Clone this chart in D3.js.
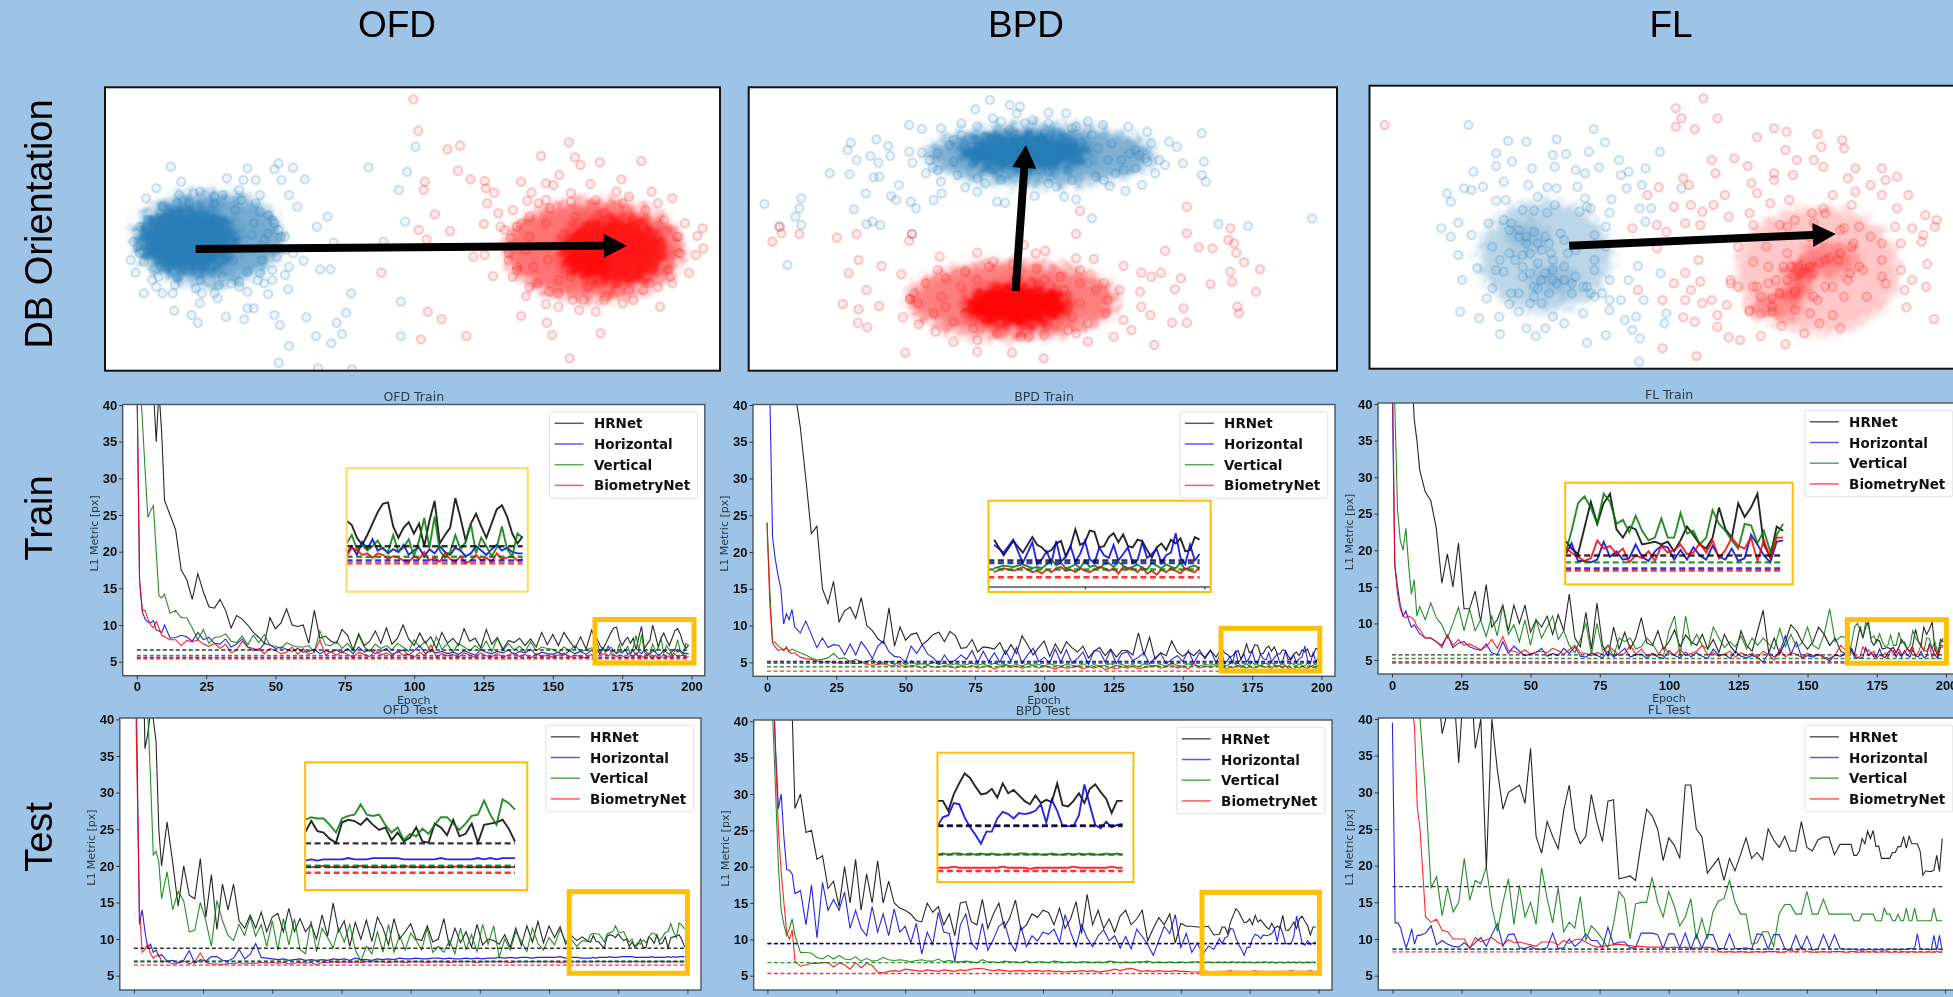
<!DOCTYPE html>
<html>
<head>
<meta charset="utf-8">
<script src="https://cdn.jsdelivr.net/npm/d3@7/dist/d3.min.js"></script>
<style>
html,body{margin:0;padding:0;background:#9DC3E6;overflow:hidden}
svg{display:block}
</style>
</head>
<body>
<div id="d3data"></div>
<script>
// epochs the curves were read at: every epoch at the start and inside the zoomed window
var epochs = d3.range(0, 10).concat(d3.range(10, 165, 2), d3.range(165, 200));
var seriesNames = ["HRNet", "Horizontal", "Vertical", "BiometryNet"];
var seriesColors = ["#000000", "#0000e0", "#007a00", "#ff0000"];
var xTicks = [0, 25, 50, 75, 100, 125, 150, 175, 200];
var yTicks = [5, 10, 15, 20, 25, 30, 35, 40];
var columnLabels = ["OFD", "BPD", "FL"];
var rowLabels = ["DB Orientation", "Train", "Test"];

// OFD train
var ofdTrainHr = [90,80,70,60,52,46,42,35,42,36,
27,25,23,17.5,16.2,13.5,17,14.5,12.5,12.3,
13.5,12,9.6,11.3,10.8,10,9,8.3,7.5,11,
9.5,10.3,12.2,10,9.8,10,7.5,12,8.2,8.5,
7.8,7.5,9.4,8.6,6.6,8.8,7.2,7.8,9.2,7.5,
9.6,7.4,8.2,10,8.1,7.2,8.9,7.5,8.4,6.8,
9,7.5,8.2,7.2,9.5,7.8,8.2,6.9,9.4,7.4,
8.3,6.7,7.9,7.6,8.2,7.2,8.1,7,9,7.3,
8.7,7.2,9,7.8,6.8,8.4,6.7,9.3,
8.4,8.1,7.2,6.7,7.4,8.2,9,9.6,9.7,8,
7.2,7.9,8.3,7.5,8.2,6.6,8.4,9.8,6.8,7.4,
7.9,10,8.6,7,8.2,8.9,8,7.2,8.2,9.2,
9.5,8.7,7.5,6.8,7.3];
var ofdTrainHz = [45,16,11.8,10.8,10.4,10.3,10.6,9.3,9.2,9,
10,8.2,8.3,8.6,8.4,7.8,9,8,8.3,7.5,
7.4,8.1,7,7.4,8.1,7,6.8,6.5,7.5,7.3,
6.8,7,6.7,6.4,6.8,6.3,6.4,6.7,6.1,6.5,
6.3,6.6,6.2,6.8,6.1,7,6.3,6.6,6.1,6.4,
6.8,6,6.3,6.6,5.9,6.5,7.2,6.1,6.5,6.2,
6.4,6.1,6.3,6,6.5,6.2,5.9,6.6,6.3,6.1,
6.4,6.2,6.6,6,6.4,6.2,6.7,5.9,6.3,6.1,
6,6.3,5.9,6.5,6.1,6.4,6,6.6,
6.1,6.6,6,6.9,6.4,7.1,6.3,6.5,6.1,6.4,
6.2,6.7,6,6.3,6.5,5.9,6.4,6.1,6.6,6.2,
6,6.5,6.3,5.9,6.1,6.6,6.3,6,6.4,6.7,
6.3,6.5,6.2,6.1,6.1];
var ofdTrainVt = [60,44,38,31,24.7,25.6,26.3,20,14,13.7,
14.2,11.6,12,11,11,9.6,8,9.4,7.5,8.3,
8.4,8.8,7.8,7.6,8.5,7.3,8.6,7.6,8.7,7.2,
7.1,6.8,7.6,7.2,7,7,7.2,6.3,9.2,7.3,
7.2,7.8,6.8,7.5,6.5,8.6,7,6.4,7.4,6.8,
7.2,6.6,7.5,7,6.4,8,7,7.8,6.3,8.4,
6.7,7.4,6.3,7.5,7,6.5,7.2,6.6,7.8,6.4,
8.2,6.5,7.5,6.6,7.1,6.4,7.7,6.5,7,6.8,
6.7,6.2,7,6.5,7.2,6.4,6.6,6.9,
6.8,7.4,6.4,6.7,6.3,6.6,7,6.4,6.2,7.4,
6.2,6.5,7.1,5.9,7,8.6,6.5,8.7,6.3,5.8,
6.2,7.4,6.4,6.9,8.2,6.1,7.2,6.6,5.9,6.5,
8,6.4,5.9,7.5,7.2];
var ofdTrainBio = [45,16,12,12,10.8,10,9.6,10.5,9.6,8.6,
8.4,8,8,7.2,7.9,7.7,8,7.4,7.1,7.5,
6.8,7.4,6.2,6.6,7.8,7,6.5,6.8,6.1,6.8,
6.5,6.1,6.3,7,6,6.8,6,6.3,8,5.9,
6.4,5.9,6.4,6,5.6,6.3,6,5.7,6.6,5.9,
6.2,5.7,6.5,5.9,6,5.6,6.3,5.8,7.3,5.6,
6.1,5.8,6,5.6,6.2,5.9,5.6,6.2,5.8,5.7,
6.1,5.6,5.9,6.2,5.7,6,5.5,6.1,5.7,5.9,
5.6,5.9,6.2,5.6,5.9,5.7,5.5,6,
5.9,6.5,6.3,6,6.1,5.8,6.1,6,5.7,5.9,
5.8,5.6,5.5,5.9,5.7,6.2,5.6,5.8,5.5,6.1,
5.7,5.5,5.9,5.4,5.6,6,5.6,5.8,5.5,6.1,
5.7,5.8,5.9,5.6,5.7];
var ofdTrainMeans = [6.6, 5.6, 5.86, 5.4];

// BPD train
var bpdTrainHr = [90,85,80,75,70,65,60,55,50,45,
42,37,30,22.5,23.5,15,13,16,10.5,12,
12.5,11,13.8,10,9.3,8.2,7.6,12.4,7.2,9.8,
8,8.8,9,7.4,8,8.8,9.1,7.8,9.2,8.6,
6.9,7,8.1,6.4,7.1,7,6.8,7.7,6.1,7.4,
6.2,8.6,7.4,6,7,7.9,5.8,7.5,6.2,7.8,
7,6.4,7.2,5.6,6.5,7,5.9,6.8,5.7,6.6,
6.6,6,9,6,8.4,5.4,6.3,5.9,7.9,6.4,
5.8,6.4,5.9,6.7,5.5,6.6,5.7,6.9,
6.3,6.1,5.7,5.9,6.4,6.6,5.4,6.2,7.5,6.3,
6.5,7.4,7.3,6.1,6.2,6.9,7.2,6.5,7.1,6.2,
6.1,6.7,6.6,5.9,5.3,6.1,6.4,5.9,6.7,6.4,
6.8,5.8,5.9,6.9,6.7];
var bpdTrainHz = [60,42,22,19,16.8,15,10.2,11.6,10.8,12.2,
9.8,9,10.6,8.8,7,8.3,7,7.4,7.3,6,
7.5,6,7.8,6.8,5.5,7.2,7.9,6.4,5.8,5.7,
5,7.2,6.2,7.4,6.1,5.6,4.7,6,4.9,5.3,
6,5.4,6.6,4.9,6.5,5.1,6.3,5,6.6,5.2,
7,4.9,6,6.9,5.1,5.7,4.9,6.8,5,6.7,
4.9,5.5,6.4,4.7,6.6,6.5,5,6.7,4.8,6.2,
6.4,5.2,5.7,6.3,4.8,5.6,6.2,4.8,5.4,5.9,
5.1,6.6,4.9,6.3,5.7,6.7,4.9,6.5,
4.8,5.2,5.8,4.9,6.6,5,5.4,6.2,5,5.6,
6.6,5.2,4.9,6.1,5.5,5.3,6.3,5.1,5.6,6.1,
4.9,5.1,6.5,5.3,5.6,6,4.9,5.5,5.7,7.2,
5.3,4.8,6.3,5.1,5.6];
var bpdTrainVt = [24,15,7.8,7.7,7.2,7,6.7,6.9,6.5,6.8,
6.6,6.3,6,5.6,5.3,5.4,5.6,6.2,5.5,5.6,
5.1,5.4,5,5.1,5.4,4.8,5,5.1,4.7,5.2,
4.6,5.2,4.7,4.8,4.7,5,4.7,4.9,4.6,4.8,
4.6,4.7,4.9,4.6,4.8,4.5,4.9,4.6,4.7,4.5,
4.7,4.5,4.8,4.6,4.7,4.5,4.8,4.6,4.5,4.7,
4.6,4.5,4.8,4.4,4.7,4.5,4.6,4.8,4.5,4.7,
4.5,4.7,4.4,4.8,4.6,4.5,4.7,4.5,4.9,4.6,
4.5,4.8,4.6,4.5,4.7,4.6,4.8,4.5,
4.6,4.5,4.8,5.2,4.7,4.9,4.5,4.6,4.8,4.5,
5.1,4.6,4.7,4.5,4.8,4.9,4.6,5,4.7,4.5,
4.6,4.8,4.5,4.4,4.9,4.7,4.5,4.8,4.6,4.5,
4.9,4.4,4.6,4.7,4.5];
var bpdTrainBio = [24,13,7.6,7.1,6.6,6.8,6.6,7.1,6.4,6.2,
6.3,5.7,5.5,5.4,5.1,5,5.1,5,4.9,4.9,
4.9,4.8,5,4.7,4.6,4.7,4.8,4.6,4.5,4.7,
4.3,4.6,4.5,4.2,4.6,4.4,4.3,4.6,4.4,4.2,
4.5,4.3,4.6,4.2,4.4,4.5,4.1,4.4,4.6,4.3,
4.5,4.2,4.4,4.6,4.2,4.5,4.3,4.1,4.4,4.2,
4.3,4.5,4.1,4.4,4.2,4.5,4,4.3,4.1,4.4,
4.2,4.5,4.1,4.3,4.4,4.6,4.2,4.4,4.7,4.2,
4.4,4.1,4.9,4.2,4.5,4.3,4.6,4.2,
4.3,4.1,4.4,4.2,4.5,4.6,4.3,4.4,4.2,4.5,
4.3,4.2,4.4,4.6,4.5,4.3,4.5,4.1,4.6,4.4,
4.5,4.2,4.6,4.1,4.3,4,4.4,4.2,4.5,4.3,
4.1,4.5,4.3,4.2,4.6];
var bpdTrainMeans = [5.1, 4.9, 4.4, 3.8];

// FL train
var flTrainHr = [90,85,80,75,65,58,52,46,38,35,
31,28,26.8,23,15.5,19.5,15,21,12,12,
14.4,10.3,15.3,9.5,10.5,12.5,9,12.5,10,12.5,
8.8,10.5,9.5,11,8.5,11.2,9,14,8,6.8,
11.5,6.5,12.8,7,5.5,9.5,6.5,8.8,6.5,8,
10.8,7.3,7,9,6.5,7.5,9.1,6.8,8.4,7.5,
7,8.5,6.5,7.8,6,8.5,7,6,9,7,
6.2,9,11.8,6,8,5.8,7.5,9.8,9,7.5,
6.5,7.5,9.5,8.5,7,8,6.2,5.8,
6.8,6.2,5.8,7.7,9.6,8,9.5,10.2,7.6,7,
7.8,7.6,6.5,6.6,6.7,6.5,6.7,6,6.8,7.8,
7.2,6.5,6.2,7,9.2,7.6,7,9.5,8.5,9.2,
10.2,6.5,5.6,7.8,7.5];
var flTrainHz = [45,18,15,12.5,11,11.7,10.5,9.5,9.8,9.2,
8.6,8,8,7.5,7,8.4,6.7,7.3,7.5,6.8,
6.5,6.3,7.2,6,5.7,7.5,5.9,6.9,6.2,5.6,
5.8,6,6.6,5.5,5.9,5.6,6.6,5.9,6.8,5.5,
5.4,6,5.6,5.3,6.2,5.4,5.9,6.6,5.4,5.7,
5.8,5.2,5.9,5.4,5.2,6.3,5.6,5.3,6.1,5.4,
6,5.5,5.2,6.5,5.6,5.8,5.2,6.2,5.5,5.3,
5.6,5.3,4.7,6,5.4,6.1,8.3,5.8,7.5,5.2,
5.6,5.4,5.8,5.3,4.9,5.7,5.5,5.9,
5.7,6.6,5.3,5.3,5.2,5.4,6.7,5.6,6,5.4,
5.5,6.5,5.6,5.3,6,6.4,6.3,5.4,6.1,5.4,
6.3,5.7,5.4,6.4,5.6,5.4,6.2,5.3,5.5,7.2,
6.5,5.7,5.2,6.7,6.8];
var flTrainVt = [70,40,25.5,21.3,20,23,18,14,16,11,
12.3,10.5,12.8,10.8,9.8,8,10,12.2,9,12,
9,10.5,8.2,11,8.3,12.5,8.5,9.8,7.5,10.5,
7,10.5,8,9.5,11,7.8,9,7,6,7.8,
10,5.8,10,6.3,7,5.5,8,7.5,8,6.5,
6.8,8,7.2,6,5.5,9,11,5.5,11,7,
8.5,7,6.5,9.5,8,6.7,7.5,6.8,8.3,6.5,
8,7,8,7.2,6.5,9.3,6.8,8.5,6.8,7.3,
9.5,7,6.5,8.5,12,7.5,8.2,8.1,
5.8,7.5,9.5,10,9.2,8,10.2,9.6,8,8.3,
7.4,8.6,7.5,6.8,7,8.4,7,7,8.8,7.3,
7.5,6.5,7,9,8,7.5,6.8,6.2,8,7.9,
6.6,7.5,6,7.2,8];
var flTrainBio = [50,18,14,12,11,10.8,11,10.8,10.5,9.6,
9.2,8,8,7.5,6.7,8.4,7,7.8,7,7.2,
6.8,6.4,6.8,7.8,6.6,8.2,6.3,6.2,5.9,6.4,
5.8,6.1,6.2,6,6.6,6.3,5.8,6.4,7,6,
5.9,5.6,6,5.8,7,6.3,5.6,5.9,7,5.8,
6.5,5.5,5.9,5.6,6.8,5.9,5.7,6.5,5.6,5.9,
6.2,7,5.7,6,5.5,5.8,6.2,5.4,6,5.6,
5.9,5.4,6.2,5.7,5,6.5,5.4,6,5.8,5.3,
5.9,5.6,5.7,5.4,5.2,5.7,7,6.2,
6.3,5.9,5.6,5.3,5.5,6.8,6.2,6.4,5.8,6.2,
5.2,5.7,5.5,6,5.3,6.4,5.9,6.1,6.5,5.8,
5.9,6.6,5.9,6.8,5.5,6.1,7,6.4,6.2,7,
5.3,6.8,5.5,7,7];
var flTrainMeans = [5.7, 4.75, 5.2, 4.6];

// OFD test
var ofdTestHr = [90,85,70,55,36,38,41,40,37,25,
20,26,20.5,14.5,20,16,15.5,21,13,18.8,
11.3,17.5,14,17.5,12.5,11.5,13.3,11.5,13.7,11,
13,13.5,11,14.2,11,12.8,11,12,10,13.3,
10.4,14.9,11,12.5,9,12.3,10,12.6,9.7,13,
11.5,9.2,12.8,10,11,12.1,10,9.8,11.8,9.6,
10,12.8,9,11.5,9.5,11,8.9,12,9.2,10,
9.8,9.3,10.6,8.9,11.5,9.1,11.8,9.6,12.4,9.5,
11.8,10.2,11.7,9.3,10.5,9.8,10.3,9.7,
9.6,10.5,9.7,9.6,9.1,8.8,10.4,10.6,10.5,10.2,
10.7,10.2,9.8,10,9,9.6,8.9,9.2,10,8.9,
8.8,10.3,10,9.4,10.6,9.3,9.5,10.3,8.8,10.2,
10.3,10.4,10.6,9.9,8.9];
var ofdTestHz = [70,40,12,14,11,8.8,9.3,8.2,8.5,7.6,
7.9,7,7.1,6.8,7.1,8.4,6.7,7.2,7,7.6,
7.6,7.1,7,7.4,8.6,7.3,7.9,9.4,7.5,7.4,
7.3,7.2,7.3,7.1,7.2,7.3,7.1,7.2,7.1,7.2,
7.1,7.3,7.2,7.3,7.1,7.4,7.2,7.2,7.1,7.3,
7.2,7.3,7.2,7.4,7.3,7.3,7.4,7.3,7.3,7.4,
7.4,7.3,7.4,7.3,7.3,7.4,7.3,7.4,7.3,7.4,
7.4,7.5,7.4,7.5,7.4,7.5,7.5,7.4,7.5,7.5,
7.5,7.5,7.6,7.4,7.5,7.5,7.4,7.4,
7.4,7.5,7.4,7.5,7.5,7.5,7.5,7.6,7.5,7.5,
7.5,7.6,7.6,7.6,7.6,7.6,7.5,7.5,7.5,7.5,
7.5,7.5,7.6,7.5,7.5,7.5,7.5,7.5,7.6,7.5,
7.6,7.5,7.6,7.6,7.6];
var ofdTestVt = [70,60,52,45,42,41,32,21.5,22,20.5,
15.5,19.2,14,16.5,15.2,11,11.2,15,12.5,9,
15.3,12.5,10.5,9.8,12,10.5,13,10.4,12,9,
12.5,8.5,12.8,9.2,12.8,8.6,8,12.5,8.3,11.5,
10.2,8.8,11.5,9.6,12,8.5,7,9,8,11,
8.2,12,8.2,10.5,8.5,10.8,9.8,8.5,11.5,8.2,
9,8.2,9.8,8,11.5,8.6,10.6,8.3,12,9.3,
11.8,7.5,10,8.5,11,9.7,8.3,11.5,9.4,8.5,
10.2,9.2,11.3,9.7,10,9,9.8,9.7,
10.6,10.8,10.7,10.7,10.2,9.6,10.7,10.9,11,11.8,
11,10.9,11,10.2,9.6,10,9,9.5,9.3,9.9,
9.5,10.2,10.8,10.8,10.3,9.8,10.3,10.9,11,12.1,
11,10.2,12.2,11.9,11.4];
var ofdTestBio = [60,35,14,8.2,8.6,9.3,8,7.4,7.7,7.9,
6.9,7,6.6,6.7,7,6.6,6.9,8.1,6.8,6.6,
6.6,6.5,6.7,6.6,6.8,6.6,6.7,6.7,6.8,6.7,
6.8,6.7,6.8,6.6,6.7,6.8,6.7,6.8,6.5,6.8,
6.8,6.9,6.8,6.9,6.8,6.9,6.8,6.9,6.9,6.9,
6.9,6.8,6.9,6.9,6.8,6.9,6.9,6.9,6.8,6.9,
6.9,6.9,6.8,6.9,6.9,6.9,6.9,6.8,6.9,6.9,
6.9,6.9,6.9,6.8,6.9,6.9,6.9,6.9,6.9,6.9,
6.9,6.9,6.8,6.9,6.9,6.9,6.9,6.9,
6.9,6.9,6.9,7,6.9,6.9,6.9,6.9,6.9,7,
6.9,6.9,6.9,6.9,6.9,6.9,7,6.9,6.9,6.9,
6.9,6.9,6.9,6.9,6.9,7,6.9,6.9,6.9,6.9,
6.9,6.9,6.9,6.9,6.9];
var ofdTestMeans = [8.75, 6.9, 7, 6.45];

// BPD test
var bpdTestHr = [90,85,80,75,70,65,60,55,50,41,
28,30,24.7,25,21,21.5,17,18,14.5,20,
15,21,14,19,15,20.8,15,18,15,14.3,
14,13.5,12.6,12.4,15,13.7,14.5,12,13.5,10.5,
15,15.2,12.4,12,15.5,11.5,13.5,15,11.6,13,
15.4,11.3,12,13.5,13,14,13.7,12,14.3,11.5,
12.8,15.2,10.8,16.2,12,14,11.5,12.8,11,13.2,
14,12,12.8,14,9.8,11.5,13,12,13.5,9.5,
12.2,11.8,11.8,11.7,11.7,11.8,10.6,10.7,
11.7,11.7,10.8,12.3,13.3,14.2,13.8,13,12.3,12.4,
12.8,12,13.3,12.4,12.7,12.2,11.7,11.4,12.2,11.5,
11.8,11.6,13.3,11.3,11.2,11.7,12.4,11.5,12.8,13.2,
12.5,11.9,10.6,11.7,11.7];
var bpdTestHz = [80,60,45,36,28,30,24,19.6,19.5,19,
16.3,16.7,12,17.5,10.2,17.8,14,15.5,14,16.5,
11.5,14,11.5,10.5,14.5,11,13.5,10.5,14.2,11,
11.8,9.5,12.2,8,11,9.3,13.7,11,10.8,7,
12,13.5,9.5,8.6,12.2,8.5,10,11.8,12.4,9.6,
8.4,11.8,9,10.5,9.8,11,10.7,11.4,9.6,13.4,
11,9,12,10.2,9,10.5,11.3,9.8,10.5,8.8,
10.4,8.7,11.4,10.4,9.3,7.8,9.8,11.8,10.8,13.4,
8.9,10.8,8.2,9.5,7.9,9.1,8.6,10.1,
9.4,10.2,10.4,11.5,11.4,10.2,9.3,8.6,7.8,8.9,
8.9,10.1,10.7,10.5,10.1,10.6,10.5,10.6,10.8,11.4,
9.7,11.8,10.8,9.4,9.4,9.4,10.4,13.2,11.3,9.5,
9.2,9.8,9.3,9.5,9.6];
var bpdTestVt = [70,55,40,30,20,14,12,10.5,11.5,12.8,
10.5,8.2,8.2,8.1,7.5,7.3,7.8,7.3,7.8,7.3,
7.2,7.6,7,7.4,7,7.1,7.5,7.2,7.1,7.2,
7.1,6.9,7.1,7.2,7,7,7.3,6.9,7.1,6.9,
6.9,7,6.9,6.8,7.2,6.9,6.9,6.8,7,6.9,
6.9,6.8,7,6.8,6.9,6.9,6.8,7,6.9,6.8,
6.9,6.8,6.9,6.9,6.8,6.9,6.8,7,6.9,6.8,
6.9,6.8,6.9,6.9,7,6.8,6.9,6.8,6.9,6.8,
6.9,6.8,6.9,6.9,6.8,6.9,6.8,6.9,
6.8,6.9,6.8,6.9,6.9,6.8,6.9,6.8,6.9,6.8,
6.9,6.8,6.8,6.9,6.8,6.9,6.9,6.8,6.9,6.8,
6.8,6.9,6.8,6.8,6.9,6.8,6.9,6.8,6.9,6.8,
6.8,6.9,6.8,6.9,6.8];
var bpdTestBio = [70,60,48,35,25,19.3,15,11,10,11.3,
7,6.3,6.5,6.7,6.7,6.8,6.8,6.2,6.8,6.5,
5.9,6.8,6.1,6.7,6.4,5.5,5.4,5.6,5.7,5.6,
5.9,5.8,5.7,5.6,5.8,5.7,5.6,5.8,5.7,5.6,
5.8,5.7,5.9,6,6,5.8,5.7,5.8,5.7,5.6,
5.7,5.7,5.6,5.7,5.7,5.6,5.7,5.6,5.6,5.5,
5.6,5.6,5.7,5.6,5.7,5.5,5.6,5.7,5.9,5.7,
5.9,6,5.8,5.6,5.7,5.6,5.7,5.6,5.6,5.7,
5.6,5.6,5.5,5.5,5.6,5.6,5.5,5.6,
5.6,5.6,5.6,5.7,5.6,5.6,5.6,5.6,5.6,5.6,
5.6,5.6,5.7,5.6,5.6,5.6,5.6,5.5,5.6,5.6,
5.6,5.6,5.6,5.6,5.6,5.7,5.6,5.6,5.6,5.6,
5.6,5.6,5.7,5.6,5.6];
var bpdTestMeans = [9.45, 9.4, 6.8, 5.3];

// FL test
var flTestHr = [95,95,90,85,80,75,70,65,60,55,
52,50,48,46,38,41,45,34,46,48,
36,40,19.5,40,33,27.7,30,30.5,31,28.5,
36,24,21.7,26,24,22.3,27.5,31,25,23,
24,29.7,26,23.3,28.8,29,18.2,18.4,18.6,18,
23,27.7,26.8,25,20.7,23.8,22.8,21,31,31,
25,24,19,20,21,18,21,19.3,21.5,23.8,
21,21.8,20.8,25,23.5,22.5,24,22,22,26,
22.5,22,23.5,23.9,23.9,21.5,22.9,22.9,
22.9,22.9,21.4,21.4,22,23.7,23,24.7,23.7,24.8,
22.6,22.7,21,21,21,21,21.8,21.8,22.6,22.6,
24,22.4,24,23,23,23,22,18.7,19.3,19.2,
19.2,19.4,21.4,19.2,23.7];
var flTestHz = [39.5,12.2,12.2,11.5,10,8.8,10,11.4,9.3,10.5,
10.5,10.8,11.8,9.2,9.8,9.3,9,8.9,9.5,8.8,
9.5,10.2,9,10.6,12.1,9,10.6,10.7,8.8,8.7,
9,8.6,8.6,8.8,10.8,8.7,8.8,10,9,9.6,
10.7,9.8,9.8,8.8,11.6,9.3,9.6,9.6,8.8,8.8,
10.8,10.8,10.8,10.6,8.7,10.7,10.7,8.8,10.8,8.6,
10.6,8.7,10.6,10.6,8.7,8.7,10.7,8.7,8.7,8.8,
8.6,10.7,10.6,8.6,10.6,10.6,8.7,8.5,10.5,8.6,
10.4,8.5,8.6,10.6,8.7,10.6,8.7,8.6,
8.6,8.6,8.6,8.5,8.5,8.5,8.5,8.6,8.6,8.5,
8.5,8.6,8.5,8.5,8.5,8.6,8.6,8.5,8.6,8.5,
8.6,8.6,8.7,8.7,8.7,10.7,8.7,8.6,8.6,8.6,
8.5,10.5,8.5,10.5,8.4];
var flTestVt = [90,85,80,75,70,65,60,55,50,45,
40,30,17,18.5,13.2,17,13.7,15,21,15.3,
18,17.5,19.8,14.4,11,15,18.2,12,17.3,13,
15,12,19.7,15.5,12.2,17,11,12.3,11.5,15.8,
9.8,11.8,11,10,8.8,12,16.5,15.5,10,14.8,
15,15,18.4,15,13,16.5,14.5,11.8,13,15.5,
10,12.8,10,13.7,15.2,15.5,18,15,13.4,13.4,
9.3,9.5,11,11,9,13.5,14.7,14.7,13.4,13.4,
16.5,13.4,13.4,15.4,13.4,13.4,13.4,13.4,
13.4,13.4,12.5,12.5,12.5,13.4,13.4,13.4,13.4,13.4,
12.5,12.5,12.5,14.2,13.4,13.4,12.5,12.5,13.4,12.5,
12.5,14.2,12.5,12.5,14.2,12.5,12.5,12.5,12.5,12.5,
12.5,14.2,12.5,12.5,12.5];
var flTestBio = [90,80,70,60,55,50,45,42,39,28,
25,13,12.3,12.7,11.2,11,10,10,10,8.7,
10.2,9.6,9.9,10.2,9.6,9.2,9.9,9.5,9.6,9.4,
9.2,9,9.6,9.6,9.6,9.2,9.8,9.4,9.9,10,
9.6,9.2,8.9,9,9.1,9.2,9.3,9.2,9.1,9,
9,8.9,8.9,8.9,8.9,8.8,8.9,8.8,8.9,8.8,
8.8,8.8,8.9,8.8,8.3,8.2,8.3,8.2,8.3,8.2,
8.2,8.3,8.2,8.3,8.3,8.2,8.2,8.6,8.2,8.9,
8.3,8.2,8.2,8.3,8.2,8.3,8.3,8.2,
8.2,8.3,8.3,8.2,8.2,8.3,8.2,8.3,8.2,8.3,
8.2,8.2,8.3,8.2,8.3,8.2,8.2,8.3,8.2,8.2,
8.3,8.2,8.2,8.3,8.2,8.2,8.3,8.2,8.2,8.3,
8.2,8.2,8.3,8.2,8.2];
var flTestMeans = [17.15, 8.6, 8.6, 8.25];

// scatter points (units of each crop, 0-1568 by 0-900)
var ofdBlue = [[195,260],[380,265],[445,268],[455,250],[490,263],[220,305],[330,295],[370,300],[400,300],[462,300],[518,298],[160,325],[360,330],[410,345],[135,355],[480,345],[500,380],[430,405],[573,410],[547,440],[120,440],[105,485],[455,450],[490,520],[588,488],[708,485],[98,540],[110,578],[515,542],[555,568],[580,568],[470,585],[175,640],[130,640],[380,635],[430,642],[478,628],[630,640],[203,692],[265,670],[308,655],[395,685],[380,685],[245,705],[328,710],[372,718],[260,728],[445,705],[522,712],[618,698],[595,728],[458,735],[608,762],[545,768],[582,790],[480,798],[455,848],[550,865],[632,868],[750,665],[750,768],[672,262],[765,275],[745,330],[760,425],[785,200],[155,505],[440,600],[410,580],[300,640],[340,610],[150,600],[120,520],[440,420],[400,370],[300,350],[250,340],[210,370],[170,400],[470,470],[480,560],[200,640],[270,640],[360,620],[420,610],[160,620],[130,470],[470,510],
[150,440],[175,380],[215,345],[265,335],[320,345],[365,360],[410,395],[445,430],[460,470],[450,530],[440,570],[405,600],[360,605],[310,615],[255,625],[205,615],[165,590],[130,545],[115,500],[140,420],[190,400],[240,370],[300,370],[350,390],[395,430],[420,480],[415,540],[380,575],[320,590],[265,600],[210,590],[170,560],[140,510],[160,470],[430,460],[390,465],[345,540],[205,540],[300,420],[350,470]];
var ofdRed = [[780,58],[792,152],[862,208],[893,197],[1155,187],[1088,228],[1170,232],[1183,255],[1230,247],[1330,243],[888,272],[918,298],[952,303],[808,305],[805,330],[955,325],[975,338],[1040,305],[1132,285],[1282,298],[1100,310],[1118,315],[1065,338],[1082,370],[1055,362],[1207,312],[1270,335],[1355,335],[958,370],[832,403],[985,400],[1020,390],[1405,355],[950,432],[990,440],[793,450],[868,453],[812,478],[1435,430],[1478,445],[1465,468],[1480,505],[925,530],[952,525],[1462,525],[703,578],[972,588],[1445,578],[1405,610],[1052,648],[1108,635],[1165,660],[1335,630],[1375,680],[1100,672],[1130,680],[1040,708],[815,695],[848,718],[798,778],[908,768],[1102,728],[1115,765],[1232,760],[1157,835],[1220,695],[1285,670],[1310,660],[1000,450],[1010,540],[1020,590],[1420,520],[1400,590],[1370,620],[1240,660],[1060,620],[1420,470],[1040,430],[1100,360],[1160,340],[1300,350],[1370,370],[1030,560],[1180,690],
[1030,440],[1060,410],[1110,385],[1160,365],[1220,360],[1285,370],[1340,390],[1385,420],[1415,470],[1425,520],[1395,570],[1350,610],[1300,630],[1245,650],[1190,660],[1130,640],[1080,610],[1030,570],[1010,520],[1015,475],[1060,470],[1100,430],[1170,410],[1240,400],[1310,420],[1370,470],[1380,530],[1330,580],[1270,610],[1200,620],[1130,600],[1070,560],[1050,510],[1105,540],[1340,510],[1160,590]];
var bpdBlue = [[632,60],[682,75],[708,80],[595,88],[780,98],[825,100],[428,135],[460,147],[508,145],[640,115],[880,125],[918,135],[982,140],[1030,155],[1168,160],[1085,185],[1105,200],[1040,190],[280,188],[345,178],[375,198],[272,210],[330,228],[295,240],[380,228],[428,215],[460,218],[436,248],[350,248],[227,280],[277,283],[352,290],[338,292],[402,315],[508,305],[488,262],[1025,235],[1120,250],[1173,245],[1168,285],[1178,305],[1050,280],[970,270],[935,318],[975,332],[1017,315],[318,340],[382,348],[432,365],[445,385],[395,360],[490,360],[510,340],[570,322],[600,335],[650,365],[670,368],[745,348],[850,358],[890,415],[62,372],[155,355],[150,385],[140,410],[155,435],[288,388],[320,432],[335,425],[355,435],[435,462],[120,555],[1210,432],[1285,438],[1447,415],[820,350],[100,440],[560,130],[700,100],[740,120],[850,140],[1000,210],[470,280],[540,180],[920,300],[800,320],[620,310],[1060,240],[1075,255],
[500,220],[530,195],[560,165],[600,140],[660,125],[720,130],[780,130],[840,145],[890,165],[940,190],[985,220],[1030,245],[1000,265],[950,280],[900,290],[840,300],[780,310],[720,305],[660,300],[600,295],[550,285],[500,270],[480,240],[540,245],[590,250],[930,240],[880,250],[830,270],[780,275],[620,170],[680,150],[770,160],[860,190],[905,205],[965,240],[1010,225]];
var bpdRed = [[100,440],[105,460],[150,462],[82,485],[245,473],[295,462],[428,482],[435,462],[860,392],[850,462],[1130,380],[1130,460],[1240,445],[1235,480],[1250,490],[1255,518],[1075,512],[1160,502],[1195,505],[1275,547],[1315,568],[1240,575],[1245,605],[1190,612],[1305,635],[1258,680],[1262,700],[600,518],[505,530],[748,520],[772,512],[718,495],[850,535],[895,537],[300,540],[358,558],[275,580],[408,583],[970,558],[1015,578],[1065,578],[1040,590],[1115,595],[320,630],[300,688],[260,672],[352,678],[430,658],[412,712],[298,728],[322,742],[452,733],[1012,635],[1100,628],[1122,685],[1015,680],[1038,705],[1093,728],[1130,728],[970,720],[990,750],[945,770],[1048,795],[880,785],[418,818],[600,815],[688,818],[768,835],[540,785],[495,755],[640,545],[500,570],[860,570],[920,610],[960,630],[850,760],[730,770],[600,780],
[440,640],[470,610],[520,595],[570,575],[630,560],[690,555],[750,565],[810,590],[860,610],[900,630],[930,660],[925,700],[880,730],[830,750],[770,765],[710,770],[650,760],[590,745],[540,725],[490,700],[450,670],[510,650],[560,620],[820,630],[860,670],[840,710],[780,735],[640,725],[570,700],[520,680],[430,655],[600,600],[700,590],[770,600]];
var flBlue = [[287,135],[618,147],[648,187],[392,183],[440,185],[520,178],[793,215],[360,220],[510,225],[545,222],[605,215],[360,258],[402,245],[455,265],[515,260],[632,262],[685,240],[755,265],[300,275],[570,270],[595,280],[230,340],[240,365],[275,325],[295,330],[325,320],[380,305],[445,315],[495,322],[520,325],[575,320],[690,285],[710,275],[705,325],[745,315],[850,325],[360,362],[385,360],[470,350],[515,375],[595,355],[600,380],[665,358],[260,428],[215,445],[340,430],[380,420],[430,390],[460,392],[495,398],[580,395],[610,385],[660,398],[770,385],[740,385],[395,450],[460,455],[620,465],[295,465],[240,470],[530,460],[650,440],[755,425],[260,525],[430,525],[500,490],[505,520],[570,510],[650,500],[310,565],[360,570],[380,575],[450,580],[490,580],[540,560],[620,570],[735,558],[795,580],[270,600],[350,625],[510,600],[600,620],[710,600],[660,600],[400,640],[460,650],[560,640],[620,650],[690,660],[750,660],[335,655],[395,672],[480,670],[265,695],[315,715],[368,710],[420,695],[510,710],[590,700],[660,690],[730,710],[700,720],[810,700],[805,730],[540,730],[370,762],[440,745],[490,745],[465,768],[600,788],[650,765],[740,775],[720,750],[738,845],[470,625],[430,560],[510,570],[420,470],[440,490],[560,610],
[400,430],[420,450],[440,470],[470,490],[490,470],[395,520],[410,540],[450,520],[470,550],[430,590],[460,620],[500,640],[520,610],[480,600],[540,600],[570,590],[590,620],[610,640],[640,640],[660,660],[450,670],[420,640],[510,540],[480,510],[550,520],[540,480],[620,540],[350,500],[370,540]];
var flRed = [[65,135],[908,55],[835,85],[850,115],[945,115],[885,148],[835,140],[1050,172],[1095,145],[1128,155],[1210,162],[1275,180],[1220,200],[1280,205],[1125,210],[930,240],[990,235],[1155,240],[1200,240],[1025,258],[1310,265],[1380,265],[940,280],[1095,280],[1145,285],[1225,260],[1290,295],[1350,315],[1420,290],[790,322],[855,295],[870,315],[1035,310],[1095,300],[1390,300],[965,345],[1050,340],[1135,360],[1250,345],[1310,335],[1450,345],[760,345],[830,380],[875,375],[935,375],[1085,370],[1195,400],[1300,375],[1380,345],[1420,385],[905,395],[975,410],[1030,400],[1110,435],[1150,420],[1225,385],[1495,405],[1525,420],[785,435],[860,430],[900,435],[1040,435],[1280,445],[1320,440],[1415,440],[1460,445],[1520,440],[720,445],[810,455],[1000,500],[1075,500],[1305,490],[1380,490],[1430,490],[1490,465],[1485,485],[785,505],[895,540],[1040,545],[1230,540],[1380,540],[1500,552],[860,578],[980,600],[1165,578],[1215,548],[1265,540],[1295,580],[1430,570],[830,610],[900,605],[1100,600],[1250,620],[1390,610],[1460,600],[1497,620],[735,630],[875,630],[1150,635],[1440,630],[800,660],[860,660],[905,670],[930,660],[970,675],[1090,655],[1200,650],[1340,650],[1445,682],[1030,695],[1090,695],[855,712],[885,725],[945,705],[1250,705],[1190,700],[1518,717],[945,740],[1115,738],[1215,730],[1270,745],[975,772],[1005,780],[1060,768],[1175,760],[1125,793],[800,805],[890,828],[1300,500],[1330,570],[1050,620],[1080,560],[1130,520],[1000,620],
[1140,560],[1190,560],[1240,535],[1270,520],[1130,600],[1110,640],[1090,680],[1060,650],[1030,690],[1060,700],[1230,620],[1290,600],[1320,560],[1380,590],[1350,470],[1200,430],[1230,400],[1130,440],[1190,470],[1040,620],[980,610],[1270,450],[1150,690],[1210,660],[1280,650],[1120,560],[1080,610]];

// dense middle of each cloud: cx, cy, rx, ry, density
var ofdBlueCore = [[285,475,180,140,.62],[240,480,120,105,.85]];
var ofdRedCore = [[1215,510,215,150,.55],[1260,510,130,105,.8],[1195,545,60,50,.5]];
var bpdBlueCore = [[760,225,290,90,.58],[720,215,170,62,.9]];
var bpdRedCore = [[690,660,265,115,.5],[700,675,135,68,.95]];
var flBlueCore = [[490,530,175,165,.3],[440,470,55,45,.25],[510,600,60,45,.25]];
var flRedCore = [[1210,570,215,190,.22],[1165,578,40,30,.6],[1150,635,40,25,.5],[1240,540,80,50,.35],[1100,680,70,40,.3]];

// orientation arrows: from, to
var ofdArrow = [[255,507],[1295,497]];
var bpdArrow = [[697,633],[723,195]];
var flArrow = [[553,497],[1258,462]];

var width = 1953, height = 997;
var svg = d3.select("#d3data").append("svg")
    .attr("width", width)
    .attr("height", height)
    .style("filter", "blur(0.45px)")
    .style("background", "#9DC3E6");
var defs = svg.append("defs");

// rough edges on the dense part so it looks like many overlapping markers
var coreFilter = defs.append("filter").attr("id", "coreBlur")
    .attr("x", "-30%").attr("y", "-30%").attr("width", "160%").attr("height", "160%");
coreFilter.append("feGaussianBlur").attr("in", "SourceGraphic").attr("stdDeviation", 5).attr("result", "soft");
coreFilter.append("feTurbulence").attr("type", "fractalNoise").attr("baseFrequency", 0.12)
    .attr("numOctaves", 2).attr("seed", 4).attr("result", "noise");
coreFilter.append("feDisplacementMap").attr("in", "soft").attr("in2", "noise").attr("scale", 16)
    .attr("xChannelSelector", "R").attr("yChannelSelector", "G").attr("result", "rough");
coreFilter.append("feGaussianBlur").attr("in", "rough").attr("stdDeviation", 1);
defs.append("filter").attr("id", "ringBlur")
    .append("feGaussianBlur").attr("stdDeviation", 0.7);

// headings
var headX = [397, 1026, 1671];
svg.selectAll("text.col").data(columnLabels).enter().append("text")
    .attr("class", "col")
    .attr("x", (d, i) => headX[i])
    .attr("y", 37)
    .attr("text-anchor", "middle")
    .style("font", "37px 'Liberation Sans'")
    .text(d => d);
var headY = [224, 518, 837];
svg.selectAll("text.row").data(rowLabels).enter().append("text")
    .attr("class", "row")
    .attr("transform", (d, i) => "translate(52," + headY[i] + ") rotate(-90)")
    .attr("text-anchor", "middle")
    .style("font", "38px 'Liberation Sans'")
    .text(d => d);

function drawScatter(box, blue, red, blueCore, redCore, arrow) {
    var g = svg.append("g");
    var id = "scat" + box.left;
    defs.append("clipPath").attr("id", id).append("rect")
        .attr("x", box.left).attr("y", box.top)
        .attr("width", box.right - box.left).attr("height", box.bottom - box.top);
    g.append("rect")
        .attr("x", box.left).attr("y", box.top)
        .attr("width", box.right - box.left).attr("height", box.bottom - box.top)
        .attr("fill", "#fff");

    var x = d3.scaleLinear().domain([0, 1568]).range([box.cropX, box.cropX + box.cropW]);
    var y = d3.scaleLinear().domain([0, 900]).range([80, 380]);
    var inner = g.append("g").attr("clip-path", "url(#" + id + ")");

    [[blue, blueCore, "#1f77b4"], [red, redCore, "#ff0000"]].forEach(function (s) {
        inner.append("g").attr("filter", "url(#coreBlur)")
            .selectAll("ellipse").data(s[1]).enter().append("ellipse")
            .attr("cx", d => x(d[0]))
            .attr("cy", d => y(d[1]))
            .attr("rx", d => x(d[2]) - x(0))
            .attr("ry", d => y(d[3]) - y(0))
            .attr("fill", s[2])
            .attr("opacity", d => d[4]);
        inner.append("g").attr("filter", "url(#ringBlur)")
            .selectAll("circle").data(s[0]).enter().append("circle")
            .attr("cx", d => x(d[0]))
            .attr("cy", d => y(d[1]))
            .attr("r", 4.2)
            .attr("fill", s[2]).attr("fill-opacity", 0.07)
            .attr("stroke", s[2]).attr("stroke-opacity", 0.2).attr("stroke-width", 2.2);
    });

    // arrow, shaft plus head, built from the two read points
    var x0 = x(arrow[0][0]), y0 = y(arrow[0][1]), x1 = x(arrow[1][0]), y1 = y(arrow[1][1]);
    var len = Math.hypot(x1 - x0, y1 - y0), ux = (x1 - x0) / len, uy = (y1 - y0) / len;
    var px = -uy, py = ux, sw = 4, hw = 12, hl = 23;
    var bx = x1 - ux * hl, by = y1 - uy * hl;
    var outline = [[x0 + px * sw, y0 + py * sw], [bx + px * sw, by + py * sw], [bx + px * hw, by + py * hw], [x1, y1],
        [bx - px * hw, by - py * hw], [bx - px * sw, by - py * sw], [x0 - px * sw, y0 - py * sw]];
    g.append("path").attr("d", d3.line()(outline) + "Z").attr("fill", "#000");

    g.append("rect")
        .attr("x", box.left).attr("y", box.top)
        .attr("width", box.right - box.left).attr("height", box.bottom - box.top)
        .attr("fill", "none").attr("stroke", "#111").attr("stroke-width", 2);
}

drawScatter({left: 105, right: 720, top: 87.3, bottom: 370.7, cropX: 90, cropW: 650}, ofdBlue, ofdRed, ofdBlueCore, ofdRedCore, ofdArrow);
drawScatter({left: 748.7, right: 1337, top: 87.3, bottom: 370.7, cropX: 740, cropW: 620}, bpdBlue, bpdRed, bpdBlueCore, bpdRedCore, bpdArrow);
drawScatter({left: 1369.5, right: 1965, top: 85.7, bottom: 368.7, cropX: 1360, cropW: 593}, flBlue, flRed, flBlueCore, flRedCore, flArrow);

function drawCurves(g, x, y, series, means, lw, dashLw, dash, from) {
    var line = d3.line().defined(d => d[0] >= from).x(d => x(d[0])).y(d => y(d[1]));
    series.forEach(function (vals, k) {
        if (vals.length !== epochs.length) throw new Error("bad length " + k + " " + vals.length);
        g.append("path")
            .attr("d", line(vals.map((v, i) => [epochs[i], v])))
            .attr("fill", "none")
            .attr("stroke", seriesColors[k])
            .attr("stroke-opacity", 0.85)
            .attr("stroke-width", lw);
    });
    // blue first so the black dashes stay on top where they coincide
    [1, 0, 2, 3].forEach(function (k) {
        g.append("path")
            .attr("d", line([[from, means[k]], [199, means[k]]]))
            .attr("fill", "none")
            .attr("stroke", seriesColors[k])
            .attr("stroke-opacity", 0.8)
            .attr("stroke-width", dashLw)
            .attr("stroke-dasharray", dash);
    });
}

function drawPanel(p) {
    var g = svg.append("g");
    var x = d3.scaleLinear().domain([0, 200]).range([p.x0, p.x200]);
    var y = d3.scaleLinear().domain([5, 40]).range([p.y5, p.y40]);
    var id = "plot" + p.left + "_" + p.top;
    defs.append("clipPath").attr("id", id).append("rect")
        .attr("x", p.left).attr("y", p.top)
        .attr("width", p.right - p.left).attr("height", p.bottom - p.top);

    g.append("rect")
        .attr("x", p.left).attr("y", p.top)
        .attr("width", p.right - p.left).attr("height", p.bottom - p.top)
        .attr("fill", "#fff");

    var plot = g.append("g").attr("clip-path", "url(#" + id + ")");
    drawCurves(plot, x, y, p.series, p.means, 1.1, 1.4, "4,2.5", 0);

    // spines and axes
    g.append("rect")
        .attr("x", p.left).attr("y", p.top)
        .attr("width", p.right - p.left).attr("height", p.bottom - p.top)
        .attr("fill", "none").attr("stroke", "#4a5560").attr("stroke-width", 1.4);
    var xAxis = g.append("g").attr("transform", "translate(0," + p.bottom + ")")
        .call(d3.axisBottom(x).tickValues(xTicks).tickSize(3.5).tickPadding(3));
    var yAxis = g.append("g").attr("transform", "translate(" + p.left + ",0)")
        .call(d3.axisLeft(y).tickValues(yTicks).tickSize(3.5).tickPadding(2));
    [xAxis, yAxis].forEach(function (a) {
        a.select(".domain").remove();
        a.selectAll("line").attr("stroke", "#333");
        a.selectAll("text").attr("fill", "#111")
            .style("font", "bold 13px 'Liberation Sans'");
    });

    // labels
    var labelStyle = "11px 'DejaVu Sans'";
    g.append("text")
        .attr("x", (p.left + p.right) / 2)
        .attr("y", p.titleY)
        .attr("text-anchor", "middle").attr("fill", "#2b3a48")
        .style("font", "12.5px 'DejaVu Sans'")
        .text(p.title);
    if (p.bottom + 28 < height) {
        g.append("text")
            .attr("x", (p.left + p.right) / 2)
            .attr("y", p.bottom + 28)
            .attr("text-anchor", "middle").attr("fill", "#2b3a48")
            .style("font", labelStyle)
            .text("Epoch");
    }
    g.append("text")
        .attr("transform", "translate(" + (p.left - 25) + "," + (p.y5 + p.y40) / 2 + ") rotate(-90)")
        .attr("text-anchor", "middle").attr("fill", "#2b3a48")
        .style("font", labelStyle)
        .text("L1 Metric [px]");

    // legend
    var boxW = 148, boxH = 86.5, lx = p.right - 7.2 - boxW, ly = p.top + 7.2;
    var leg = g.append("g");
    leg.append("rect")
        .attr("x", lx).attr("y", ly).attr("width", boxW).attr("height", boxH).attr("rx", 2)
        .attr("fill", "#fff").attr("stroke", "#e2e2e2").attr("stroke-width", 1);
    seriesNames.forEach(function (name, k) {
        var ry = ly + 11.6 + k * 20.7;
        leg.append("line")
            .attr("x1", lx + 5).attr("x2", lx + 34).attr("y1", ry).attr("y2", ry)
            .attr("stroke", seriesColors[k]).attr("stroke-opacity", 0.65).attr("stroke-width", 1.5);
        leg.append("text")
            .attr("x", lx + 44.3).attr("y", ry + 5)
            .attr("fill", "#111")
            .style("font", "bold 13.5px 'DejaVu Sans'")
            .text(name);
    });

    // zoomed inset and the box it comes from
    if (p.inset) {
        var n = p.inset;
        var ix = d3.scaleLinear().domain(n.xDomain).range([n.x1, n.x2]);
        var iy = d3.scaleLinear().domain(n.yDomain).range([n.y2, n.y1]);
        var iid = "inset" + p.left + "_" + p.top;
        defs.append("clipPath").attr("id", iid).append("rect")
            .attr("x", n.x1).attr("y", n.y1)
            .attr("width", n.x2 - n.x1).attr("height", n.y2 - n.y1);
        g.append("rect")
            .attr("x", n.x1).attr("y", n.y1)
            .attr("width", n.x2 - n.x1).attr("height", n.y2 - n.y1)
            .attr("fill", "#fff");
        var ig = g.append("g").attr("clip-path", "url(#" + iid + ")");
        drawCurves(ig, ix, iy, p.series, p.means, 1.9, 2.4, "6,3.5", n.xDomain[0]);
        if (n.axis) {
            var ia = ig.append("g").attr("transform", "translate(0," + iy(n.axis) + ")")
                .call(d3.axisBottom(ix).tickValues([175, 200]).tickSize(3).tickFormat(""));
            ia.selectAll("line, path").attr("stroke", "#555").attr("stroke-width", 1.5);
        }
        g.append("rect")
            .attr("x", n.x1).attr("y", n.y1)
            .attr("width", n.x2 - n.x1).attr("height", n.y2 - n.y1)
            .attr("fill", "none").attr("stroke", n.color).attr("stroke-width", 2);
    }
    if (p.zoomBox) {
        g.append("rect")
            .attr("x", p.zoomBox[0]).attr("y", p.zoomBox[1])
            .attr("width", p.zoomBox[2] - p.zoomBox[0]).attr("height", p.zoomBox[3] - p.zoomBox[1])
            .attr("fill", "none").attr("stroke", "#FFC000").attr("stroke-width", 5);
    }
}

var panels = [
    {title: "OFD Train", series: [ofdTrainHr, ofdTrainHz, ofdTrainVt, ofdTrainBio], means: ofdTrainMeans,
        left: 122.7, right: 704.8, top: 404.5, bottom: 675.7, x0: 136.8, x200: 691.5, y5: 661.7, y40: 405, titleY: 400.5,
        zoomBox: [595, 619.5, 694, 663],
        inset: {x1: 346.6, x2: 527.8, y1: 468.3, y2: 591.7, xDomain: [165, 200], yDomain: [3.4, 12.1], color: "#FFD966"}},
    {title: "BPD Train", series: [bpdTrainHr, bpdTrainHz, bpdTrainVt, bpdTrainBio], means: bpdTrainMeans,
        left: 753, right: 1335, top: 404.5, bottom: 676.3, x0: 767, x200: 1321.4, y5: 662.3, y40: 405, titleY: 400.5,
        zoomBox: [1221, 628.3, 1319.8, 671],
        inset: {x1: 988.4, x2: 1210.6, y1: 500.7, y2: 592, xDomain: [154.8, 201.3], yDomain: [2.67, 9.7], color: "#FFC000", axis: 3.09}},
    {title: "FL Train", series: [flTrainHr, flTrainHz, flTrainVt, flTrainBio], means: flTrainMeans,
        left: 1378, right: 1960, top: 403, bottom: 674, x0: 1392, x200: 1946, y5: 660, y40: 404, titleY: 399,
        zoomBox: [1847.4, 619.7, 1946.3, 663.3],
        inset: {x1: 1565.2, x2: 1792.7, y1: 482.7, y2: 584.3, xDomain: [165, 200.5], yDomain: [3.6, 11], color: "#FFC000"}},
    {title: "OFD Test", series: [ofdTestHr, ofdTestHz, ofdTestVt, ofdTestBio], means: ofdTestMeans,
        left: 119.8, right: 701, top: 718, bottom: 990, x0: 133.9, x200: 687.4, y5: 975.7, y40: 719.4, titleY: 714,
        zoomBox: [569.2, 891.7, 687.4, 973.3],
        inset: {x1: 305.1, x2: 527.3, y1: 762.3, y2: 890, xDomain: [165, 201], yDomain: [5.1, 15.1], color: "#FFC000"}},
    {title: "BPD Test", series: [bpdTestHr, bpdTestHz, bpdTestVt, bpdTestBio], means: bpdTestMeans,
        left: 753.7, right: 1332, top: 720, bottom: 990, x0: 767.4, x200: 1318.6, y5: 975.7, y40: 721.3, titleY: 715,
        zoomBox: [1202, 892.3, 1319.4, 973.3],
        inset: {x1: 937.4, x2: 1133.4, y1: 752.7, y2: 882, xDomain: [165, 201], yDomain: [4.3, 16.1], color: "#FFC000"}},
    {title: "FL Test", series: [flTestHr, flTestHz, flTestVt, flTestBio], means: flTestMeans,
        left: 1378.3, right: 1960, top: 718, bottom: 990, x0: 1392.4, x200: 1945, y5: 975.7, y40: 719, titleY: 714}
];
panels.forEach(drawPanel);
</script>
</body>
</html>
